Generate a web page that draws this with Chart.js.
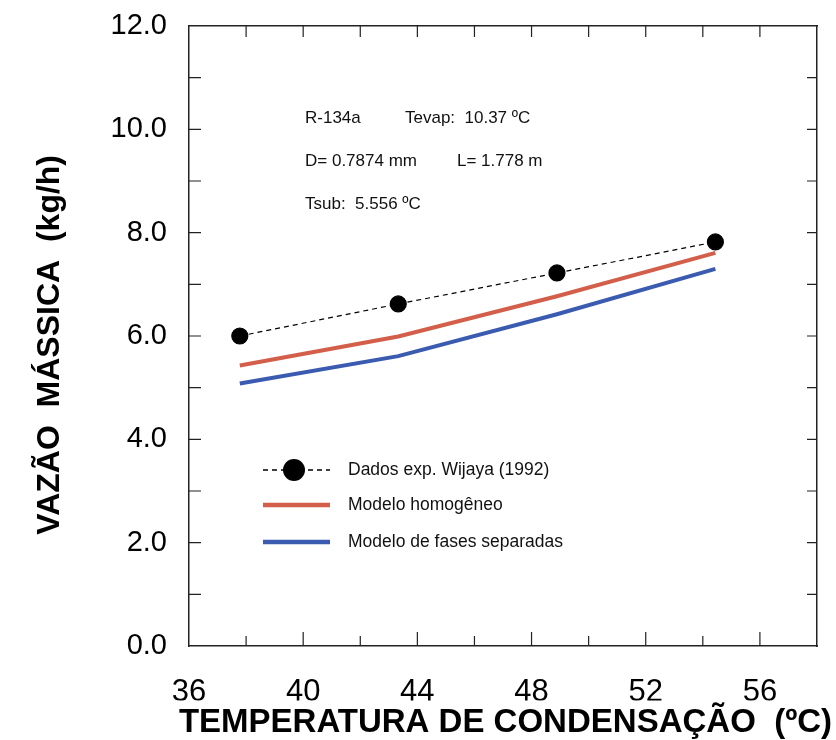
<!DOCTYPE html>
<html>
<head>
<meta charset="utf-8">
<script src="https://cdn.jsdelivr.net/npm/chart.js@4/dist/chart.umd.min.js"></script>
<style>
  html, body { margin: 0; padding: 0; background: #fff; }
  #wrap { width: 836px; height: 740px; }
</style>
</head>
<body>
<div id="wrap"><canvas id="vazaoChart" width="836" height="740"></canvas></div>
<script>
// Condensing temperature (ºC) - 100, 110, 120, 130 ºF
const tempCond = [37.78, 43.33, 48.89, 54.44];
// Experimental data, Wijaya (1992)
const dadosExp = [6.00, 6.62, 7.22, 7.82];
// Homogeneous model
const modeloHomogeneo = [5.43, 5.99, 6.77, 7.61];
// Separated phases model
const modeloFases = [5.08, 5.61, 6.42, 7.30];

const xTicks = [36, 40, 44, 48, 52, 56];
const yTicks = [0, 2, 4, 6, 8, 10, 12];

const annotations = [
  ['R-134a', 305, 118],
  ['Tevap:  10.37 ºC', 405, 118],
  ['D= 0.7874 mm', 305, 161],
  ['L= 1.778 m', 457, 161],
  ['Tsub:  5.556 ºC', 305, 204]
];

const RED = '#d35f4b';
const BLUE = '#3b5bb0';
const FONT = "'Liberation Sans', Arial, sans-serif";

function pts(ys) {
  return tempCond.map(function(x, i) { return { x: x, y: ys[i] }; });
}

// inward tick marks on all four sides of the frame
const innerTicks = {
  id: 'innerTicks',
  afterDraw: function(chart) {
    const ctx = chart.ctx;
    const a = chart.chartArea;
    const sx = chart.scales.x, sy = chart.scales.y;
    ctx.save();
    ctx.strokeStyle = '#222';
    ctx.lineWidth = 1.2;
    ctx.beginPath();
    sx.ticks.forEach(function(t) {
      const px = sx.getPixelForValue(t.value);
      if (t.value <= sx.min || t.value >= sx.max) return;
      const len = xTicks.indexOf(t.value) >= 0 ? 14 : 10;
      ctx.moveTo(px, a.bottom); ctx.lineTo(px, a.bottom - len);
      ctx.moveTo(px, a.top); ctx.lineTo(px, a.top + 11);
    });
    sy.ticks.forEach(function(t) {
      const py = sy.getPixelForValue(t.value);
      if (t.value <= sy.min || t.value >= sy.max) return;
      ctx.moveTo(a.left, py); ctx.lineTo(a.left + 12, py);
      ctx.moveTo(a.right, py); ctx.lineTo(a.right - 10, py);
    });
    ctx.stroke();
    ctx.restore();
  }
};

// text box and legend inside the plot
const notes = {
  id: 'notes',
  afterDraw: function(chart) {
    const ctx = chart.ctx;
    ctx.save();
    ctx.fillStyle = '#111';
    ctx.textBaseline = 'middle';
    ctx.font = '17px ' + FONT;
    annotations.forEach(function(n) { ctx.fillText(n[0], n[1], n[2]); });

    const ds = chart.data.datasets;
    const rows = [470, 505, 542];
    ctx.font = '17.5px ' + FONT;
    ds.forEach(function(d, i) {
      const y = rows[i];
      ctx.beginPath();
      ctx.strokeStyle = d.borderColor;
      ctx.lineWidth = d.pointRadius ? 1.5 : d.borderWidth + 0.5;
      ctx.setLineDash(d.borderDash || []);
      ctx.moveTo(263, y); ctx.lineTo(330, y);
      ctx.stroke();
      ctx.setLineDash([]);
      if (d.pointRadius) {
        ctx.beginPath();
        ctx.fillStyle = d.pointBackgroundColor;
        ctx.arc(294, y, 11, 0, Math.PI * 2);
        ctx.fill();
      }
      ctx.fillStyle = '#111';
      ctx.fillText(d.label, 348, y);
    });
    ctx.restore();
  }
};

// invisible tick marks keep the labels away from the frame without extra layout padding
function spacer(len) {
  return { display: true, drawOnChartArea: false, drawTicks: true, tickLength: len, color: 'rgba(0,0,0,0)' };
}

new Chart(document.getElementById('vazaoChart').getContext('2d'), {
  type: 'scatter',
  data: {
    datasets: [{
      label: 'Dados exp. Wijaya (1992)',
      data: pts(dadosExp),
      showLine: true,
      borderColor: '#000',
      borderWidth: 1.2,
      borderDash: [5, 4],
      pointRadius: 8,
      pointBackgroundColor: '#000',
      pointBorderColor: '#000',
      order: 0
    }, {
      label: 'Modelo homogêneo',
      data: pts(modeloHomogeneo),
      showLine: true,
      borderColor: RED,
      borderWidth: 4,
      pointRadius: 0,
      order: 1
    }, {
      label: 'Modelo de fases separadas',
      data: pts(modeloFases),
      showLine: true,
      borderColor: BLUE,
      borderWidth: 4,
      pointRadius: 0,
      order: 2
    }]
  },
  options: {
    responsive: false,
    animation: false,
    layout: { padding: { left: 0, top: 0, bottom: 0, right: 4 } },
    plugins: {
      legend: { display: false },
      tooltip: { enabled: false },
      title: {
        display: true,
        position: 'bottom',
        align: 'end',
        text: 'TEMPERATURA DE CONDENSAÇÃO  (ºC)',
        color: '#000',
        font: { family: FONT, size: 33, weight: 'bold', lineHeight: 1.2 },
        padding: { top: 3, bottom: -3 }
      }
    },
    scales: {
      x: {
        type: 'linear',
        position: 'bottom',
        min: 36,
        max: 58,
        grid: spacer(28),
        border: { display: true, color: '#222', width: 1.5 },
        ticks: {
          stepSize: 2,
          autoSkip: false,
          maxRotation: 0,
          padding: 0,
          color: '#000',
          font: { family: FONT, size: 31 },
          callback: function(v) { return xTicks.indexOf(v) >= 0 ? String(v) : ''; }
        },
        afterFit: function(s) { s.height = 94 - 39.6; }
      },
      xTop: {
        type: 'linear',
        position: 'top',
        min: 36,
        max: 58,
        grid: { display: false, drawTicks: false },
        border: { display: true, color: '#222', width: 1.5 },
        ticks: { display: false },
        afterFit: function(s) { s.height = 26; }
      },
      y: {
        type: 'linear',
        position: 'left',
        min: 0,
        max: 12,
        grid: spacer(22),
        border: { display: true, color: '#222', width: 1.5 },
        ticks: {
          stepSize: 1,
          autoSkip: false,
          padding: 0,
          color: '#000',
          font: { family: FONT, size: 29 },
          callback: function(v) { return yTicks.indexOf(v) >= 0 ? v.toFixed(1) : ''; }
        },
        title: {
          display: true,
          text: 'VAZÃO  MÁSSICA  (kg/h)  ',
          color: '#000',
          font: { family: FONT, size: 32, weight: 'bold' },
          padding: { top: 31, bottom: 0 }
        },
        afterFit: function(s) { s.width = 189; }
      },
      yRight: {
        type: 'linear',
        position: 'right',
        min: 0,
        max: 12,
        grid: { display: false, drawTicks: false },
        border: { display: true, color: '#222', width: 1.5 },
        ticks: { display: false },
        afterFit: function(s) { s.width = 15; }
      }
    }
  },
  plugins: [innerTicks, notes]
});
</script>
</body>
</html>
